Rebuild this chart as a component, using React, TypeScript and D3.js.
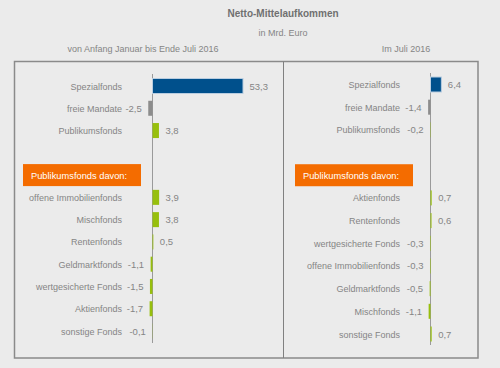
import { formatLocale, scaleLinear, scalePoint } from "d3";

// left panel: Jan - Jul 2016
const leftLabels = [
  "Spezialfonds",
  "freie Mandate",
  "Publikumsfonds",
  "",
  "Publikumsfonds davon:",
  "offene Immobilienfonds",
  "Mischfonds",
  "Rentenfonds",
  "Geldmarktfonds",
  "wertgesicherte Fonds",
  "Aktienfonds",
  "sonstige Fonds",
];
const leftValues = [53.3, -2.5, 3.8, null, null, 3.9, 3.8, 0.5, -1.1, -1.5, -1.7, -0.1];

// right panel: July 2016
const rightLabels = [
  "Spezialfonds",
  "freie Mandate",
  "Publikumsfonds",
  "",
  "Publikumsfonds davon:",
  "Aktienfonds",
  "Rentenfonds",
  "wertgesicherte Fonds",
  "offene Immobilienfonds",
  "Geldmarktfonds",
  "Mischfonds",
  "sonstige Fonds",
];
const rightValues = [6.4, -1.4, -0.2, null, null, 0.7, 0.6, -0.3, -0.3, -0.5, -1.1, 0.7];

const kinds = ["spezial", "mandate", "publikum", "gap", "header", "sub", "sub", "sub", "sub", "sub", "sub", "sub"];

const colors: Record<string, string> = {
  spezial: "#00508c",
  mandate: "#8c8c8c",
  publikum: "#97bf0d",
  sub: "#97bf0d",
};

const fmt = formatLocale({
  decimal: ",",
  thousands: ".",
  grouping: [3],
  currency: ["", " €"],
  minus: "-",
}).format(".1f");

const FONT = "'Liberation Sans', Arial, sans-serif";
const TXT = "#858585";

function Panel({
  labels,
  values,
  zeroX,
  labelX,
  boxX,
  yTop,
  yBottom,
  axisTop,
  axisBottom,
}: {
  labels: string[];
  values: (number | null)[];
  zeroX: number;
  labelX: number;
  boxX: number;
  yTop: number;
  yBottom: number;
  axisTop: number;
  axisBottom: number;
}) {
  const keys = labels.map((_, i) => String(i));
  const y = scalePoint().domain(keys).range([yTop, yBottom]);
  const x = scaleLinear().domain([0, 53.3]).range([zeroX, zeroX + 90.5]);
  const barH = 15;

  return (
    <g>
      <line x1={zeroX} x2={zeroX} y1={axisTop} y2={axisBottom} stroke="#9a9a9a" strokeWidth={1} />
      {labels.map((label, i) => {
        const cy = y(String(i)) as number;
        const v = values[i];
        const kind = kinds[i];
        if (kind === "gap") return null;
        if (kind === "header") {
          return (
            <g key={i}>
              <rect x={boxX} y={cy - 11} width={118} height={22} fill="#f46c00" />
              <text x={boxX + 8} y={cy + 3.5} fontSize={9.3} fill="#ffffff" fontFamily={FONT}>
                {label}
              </text>
            </g>
          );
        }
        const val = v as number;
        const x0 = Math.min(x(0), x(val));
        const w = Math.abs(x(val) - x(0));
        return (
          <g key={i}>
            <text x={labelX} y={cy + 3.5} fontSize={9} fill={TXT} textAnchor="end" fontFamily={FONT}>
              {label}
            </text>
            <rect
              x={x0}
              y={cy - barH / 2}
              width={w}
              height={barH}
              fill={colors[kind]}
              stroke={kind === "spezial" ? "#b9cde0" : "none"}
              strokeWidth={1}
            />
            <text
              x={val >= 0 ? x(val) + 6.5 : x(val) - 6.5}
              y={cy + 3.5}
              fontSize={9.5}
              fill={TXT}
              textAnchor={val >= 0 ? "start" : "end"}
              fontFamily={FONT}
            >
              {fmt(val)}
            </text>
          </g>
        );
      })}
    </g>
  );
}

export default function App() {
  return (
    <svg
      width={500}
      height={368}
      style={{ position: "absolute", left: 0, top: 0, background: "#ebebeb" }}
    >
      <rect x={0} y={0} width={500} height={368} fill="#ebebeb" />
      <text x={283} y={17} fontSize={10} fontWeight="bold" fill="#707070" textAnchor="middle" fontFamily={FONT}>
        Netto-Mittelaufkommen
      </text>
      <text x={283} y={36} fontSize={9} fill={TXT} textAnchor="middle" fontFamily={FONT}>
        in Mrd. Euro
      </text>
      <text x={143} y={52} fontSize={9} fill={TXT} textAnchor="middle" fontFamily={FONT}>
        von Anfang Januar bis Ende Juli 2016
      </text>
      <text x={406} y={52} fontSize={9} fill={TXT} textAnchor="middle" fontFamily={FONT}>
        Im Juli 2016
      </text>

      <rect x={14.5} y={61.5} width={463.5} height={296.5} fill="none" stroke="#8a8a8a" strokeWidth={1.5} />
      <line x1={283.5} x2={283.5} y1={61.5} y2={358} stroke="#808080" strokeWidth={1} />

      <Panel
        labels={leftLabels}
        values={leftValues}
        zeroX={152.5}
        labelX={122}
        boxX={23}
        yTop={86}
        yBottom={331}
        axisTop={74}
        axisBottom={343}
      />
      <Panel
        labels={rightLabels}
        values={rightValues}
        zeroX={430.5}
        labelX={400}
        boxX={295}
        yTop={84.5}
        yBottom={334}
        axisTop={73}
        axisBottom={345}
      />
    </svg>
  );
}
